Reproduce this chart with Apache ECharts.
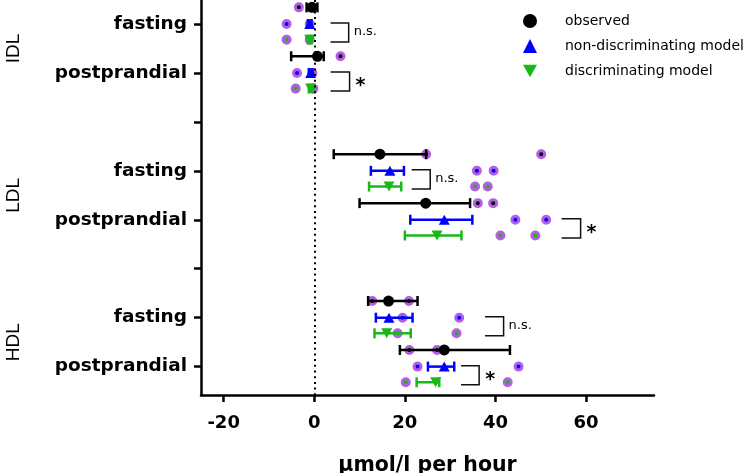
<!DOCTYPE html>
<html>
<head>
<meta charset="utf-8">
<script src="https://cdn.jsdelivr.net/npm/echarts@6/dist/echarts.min.js"></script>
<style>
  html, body { margin: 0; padding: 0; background: #fff; }
  #main { width: 750px; height: 473px; }
</style>
</head>
<body>
<div id="main"></div>
<script>
// groups and conditions (rows go IDL fasting, IDL postprandial, LDL fasting, ...)
const lipoproteins = ['IDL', 'LDL', 'HDL']
const conditions = ['fasting', 'postprandial']
const seriesNames = ['observed', 'non-discriminating model', 'discriminating model']
const xTicks = [-20, 0, 20, 40, 60]

// mean and error bar ends, one value per row
const observedMean = [-0.5, 0.7, 14.5, 24.6, 16.4, 28.7]
const observedLow = [-1.7, -5.1, 4.3, 10.0, 11.9, 18.9]
const observedHigh = [0.7, 2.1, 24.7, 34.4, 22.8, 43.2]
const nonDiscMean = [-1.0, -0.8, 16.7, 28.7, 16.5, 28.7]
const nonDiscLow = [-1.4, -1.2, 12.5, 21.2, 13.6, 25.1]
const nonDiscHigh = [-0.6, -0.4, 19.8, 34.9, 21.7, 30.9]
const discMean = [-1.0, -0.8, 16.5, 27.1, 16.0, 26.8]
const discLow = [-1.4, -1.2, 12.1, 20.0, 13.3, 22.6]
const discHigh = [-0.6, -0.4, 19.2, 32.5, 21.3, 27.6]

// individual subjects
const observedPoints = [[-3.4], [5.8], [24.7, 50.1], [36.1, 39.5], [12.8, 20.9], [21.0, 27.1]]
const nonDiscPoints = [[-6.1, -1.0], [-3.8, -0.4], [35.9, 39.6], [44.4, 51.2], [19.5, 32.0], [22.8, 45.1]]
const discPoints = [[-6.1, -1.0], [-4.1, -0.2], [35.5, 38.3], [41.1, 48.8], [18.4, 31.4], [20.2, 42.7]]

// significance brackets (model vs model), one per row
const bracketFrom = [3.6, 3.6, 21.5, 54.6, 37.7, 32.4]
const bracketTo = [7.6, 7.8, 25.6, 58.8, 41.8, 36.4]
const bracketText = ['n.s.', '*', 'n.s.', '*', 'n.s.', '*']

const colors = ['#000000', '#0000ff', '#17b817']
const purple = '#b55de3'
const rowOffset = [-0.34, 0, 0.32]
const downTriangle = 'path://M0,0 L10,0 L5,9 Z'
const symbols = ['circle', 'triangle', downTriangle]

const rowPos = (r) => Math.floor(r / 2) * 3 + (r % 2) + 1

const means = [observedMean, nonDiscMean, discMean]
const lows = [observedLow, nonDiscLow, discLow]
const highs = [observedHigh, nonDiscHigh, discHigh]
const points = [observedPoints, nonDiscPoints, discPoints]

const errorBarItem = (color) => (params, api) => {
  const y = api.value(2)
  const a = api.coord([api.value(0), y])
  const b = api.coord([api.value(1), y])
  const h = 5
  const style = { stroke: color, lineWidth: 2.5 }
  return {
    type: 'group',
    children: [
      { type: 'line', shape: { x1: a[0], y1: a[1], x2: b[0], y2: b[1] }, style },
      { type: 'line', shape: { x1: a[0], y1: a[1] - h, x2: a[0], y2: a[1] + h }, style },
      { type: 'line', shape: { x1: b[0], y1: b[1] - h, x2: b[0], y2: b[1] + h }, style },
    ],
  }
}

const bracketItem = (params, api) => {
  const p1 = api.coord([api.value(0), api.value(2)])
  const p2 = api.coord([api.value(1), api.value(3)])
  const text = bracketText[params.dataIndex]
  const star = text === '*'
  const midY = (p1[1] + p2[1]) / 2
  return {
    type: 'group',
    children: [
      {
        type: 'polyline',
        shape: { points: [[p1[0], p1[1]], [p2[0], p1[1]], [p2[0], p2[1]], [p1[0], p2[1]]] },
        style: { stroke: '#111', lineWidth: 1.5, fill: null },
      },
      {
        type: 'text',
        x: p2[0] + (star ? 6 : 5),
        y: midY + (star ? 5 : -1),
        style: {
          text: text,
          fill: '#000',
          font: star ? 'bold 19px "DejaVu Sans"' : '13px "DejaVu Sans"',
          align: 'left',
          verticalAlign: 'middle',
        },
      },
    ],
  }
}

let series = []
seriesNames.forEach((name, k) => {
  let dots = []
  let bars = []
  let mids = []
  for (let r = 0; r < 6; r++) {
    const y = rowPos(r) + rowOffset[k]
    points[k][r].forEach((v) => dots.push([v, y]))
    bars.push([lows[k][r], highs[k][r], y])
    mids.push([means[k][r], y])
  }
  series.push({
    name: name + ' subjects',
    type: 'scatter',
    symbol: 'circle',
    symbolSize: 7,
    itemStyle: { color: colors[k], borderColor: purple, borderWidth: 3, opacity: 1 },
    data: dots,
    z: 2,
    silent: true,
  })
  series.push({
    name: name + ' error',
    type: 'custom',
    renderItem: errorBarItem(colors[k]),
    data: bars,
    z: 3,
    silent: true,
  })
  series.push({
    name: name,
    type: 'scatter',
    symbol: symbols[k],
    symbolSize: k === 0 ? 11 : [11, 10],
    itemStyle: { color: colors[k], opacity: 1 },
    data: mids,
    z: 4,
    silent: true,
  })
})

series.push({
  name: 'brackets',
  type: 'custom',
  renderItem: bracketItem,
  data: bracketFrom.map((x, r) => [x, bracketTo[r], rowPos(r) + rowOffset[1] - 0.02, rowPos(r) + rowOffset[2] + 0.05]),
  z: 3,
  silent: true,
})

series.push({
  name: 'zero',
  type: 'scatter',
  data: [],
  z: 6,
  silent: true,
  markLine: {
    silent: true,
    symbol: ['none', 'none'],
    label: { show: false },
    animation: false,
    lineStyle: { type: [2, 3.7], width: 2, color: '#000' },
    data: [{ xAxis: 0 }],
  },
})

const tickRows = [1, 2, 3, 4, 5, 6, 7, 8]
const labelRows = [1, 2, 4, 5, 7, 8]

let option = {
  animation: false,
  grid: { left: 201, right: 96, top: 0, bottom: 78, outerBoundsMode: 'none', containLabel: false },
  legend: {
    data: seriesNames,
    orient: 'vertical',
    left: 518,
    top: 9,
    itemWidth: 14,
    itemHeight: 14,
    itemGap: 11,
    selectedMode: false,
    textStyle: { fontFamily: 'DejaVu Sans', fontSize: 14, color: '#000', padding: [0, 0, 0, 23] },
  },
  xAxis: {
    type: 'value',
    min: -25,
    max: 75,
    name: 'μmol/l per hour',
    nameLocation: 'middle',
    nameGap: 60,
    nameTextStyle: { fontFamily: 'DejaVu Sans', fontWeight: 'bold', fontSize: 20.5, color: '#000' },
    axisLine: { onZero: false, lineStyle: { color: '#000', width: 2.5 } },
    axisTick: { length: 7, lineStyle: { color: '#000', width: 2.5 }, customValues: xTicks },
    axisLabel: {
      customValues: xTicks,
      margin: 19,
      fontFamily: 'DejaVu Sans',
      fontWeight: 'bold',
      fontSize: 18,
      color: '#000',
    },
    splitLine: { show: false },
  },
  yAxis: {
    type: 'value',
    inverse: true,
    min: 0.51,
    max: 8.58,
    axisLine: { show: true, onZero: false, lineStyle: { color: '#000', width: 2.5 } },
    axisTick: { show: true, length: 7, lineStyle: { color: '#000', width: 2.5 }, customValues: tickRows },
    axisLabel: {
      customValues: labelRows,
      margin: 14,
      fontFamily: 'DejaVu Sans',
      fontWeight: 'bold',
      fontSize: 18.5,
      color: '#000',
      formatter: (v) => conditions[(Math.round(v) - 1) % 3] || '',
    },
    splitLine: { show: false },
  },
  series: series,
}

let myChart = echarts.init(document.getElementById('main'))
myChart.setOption(option)

// rotated group names beside the axis labels
myChart.setOption({
  graphic: lipoproteins.map((name, g) => ({
    type: 'text',
    x: 13.5,
    y: myChart.convertToPixel({ yAxisIndex: 0 }, g * 3 + 1.5),
    rotation: Math.PI / 2,
    silent: true,
    style: {
      text: name,
      font: '19px "Liberation Sans"',
      fill: '#000',
      align: 'center',
      verticalAlign: 'middle',
    },
  })),
})
</script>
</body>
</html>
